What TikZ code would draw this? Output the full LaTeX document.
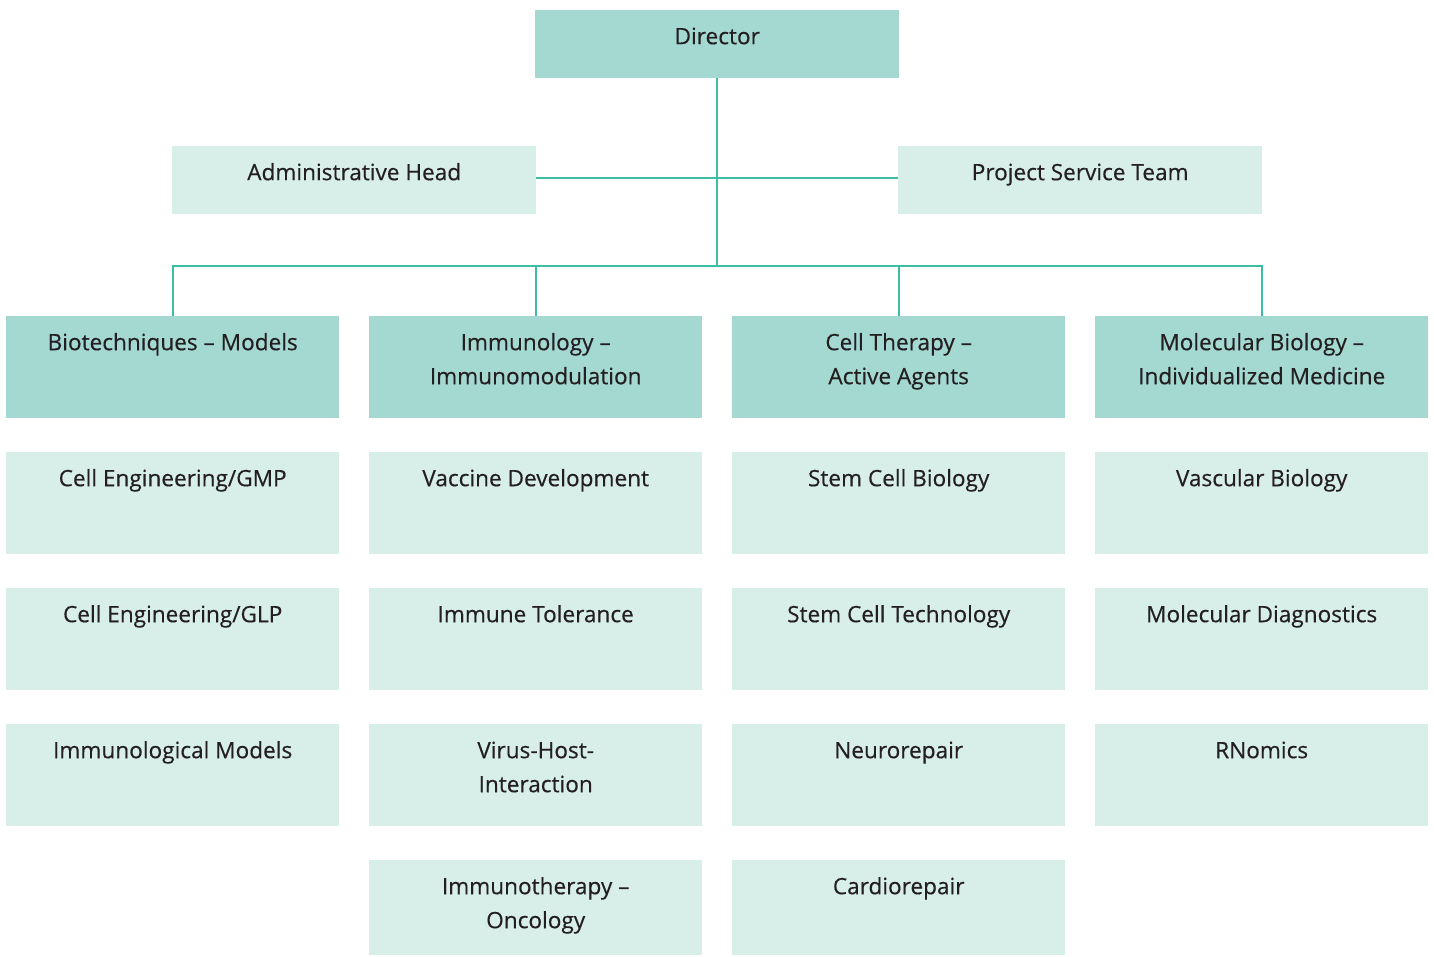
\documentclass[tikz,border=0pt]{standalone}
\usepackage{fontspec}
\setmainfont[FakeBold=0.4]{Open Sans}
\definecolor{dk}{HTML}{A4D9D2}
\definecolor{lt}{HTML}{D8EEE9}
\definecolor{ln}{HTML}{3DBDA4}
\definecolor{tx}{HTML}{231F20}
\newcommand{\bxt}[3]{\parbox[t][#2pt][t]{#1pt}{\centering\fontsize{22.6}{34}\selectfont\rule{0pt}{34pt}#3}}
\tikzset{
  dkbox/.style={fill=dk, draw=none, inner sep=0pt, anchor=north west, text=tx},
  ltbox/.style={fill=lt, draw=none, inner sep=0pt, anchor=north west, text=tx},
  conn/.style={draw=ln, line width=1.8pt},
}
\begin{document}
\begin{tikzpicture}[x=1pt,y=-1pt]
\useasboundingbox (0,0) rectangle (1434,956);
% top level
\node[dkbox] (dir) at (535,10) {\bxt{364}{68}{Director}};
\node[ltbox] (adm) at (172,146) {\bxt{364}{68}{Administrative Head}};
\node[ltbox] (pst) at (898,146) {\bxt{364}{68}{Project Service Team}};
% department heads
\node[dkbox] (bio) at (6,316) {\bxt{333}{102}{Biotechniques – Models}};
\node[dkbox] (imm) at (369,316) {\bxt{333}{102}{Immunology –\\Immunomodulation}};
\node[dkbox] (cel) at (732,316) {\bxt{333}{102}{Cell Therapy –\\Active Agents}};
\node[dkbox] (mol) at (1095,316) {\bxt{333}{102}{Molecular Biology –\\Individualized Medicine}};
% column 1
\node[ltbox] (b1) at (6,452) {\bxt{333}{102}{Cell Engineering/GMP}};
\node[ltbox] (b2) at (6,588) {\bxt{333}{102}{Cell Engineering/GLP}};
\node[ltbox] (b3) at (6,724) {\bxt{333}{102}{Immunological Models}};
% column 2
\node[ltbox] (i1) at (369,452) {\bxt{333}{102}{Vaccine Development}};
\node[ltbox] (i2) at (369,588) {\bxt{333}{102}{Immune Tolerance}};
\node[ltbox] (i3) at (369,724) {\bxt{333}{102}{Virus-Host-\\Interaction}};
\node[ltbox] (i4) at (369,860) {\bxt{333}{95}{Immunotherapy –\\Oncology}};
% column 3
\node[ltbox] (c1) at (732,452) {\bxt{333}{102}{Stem Cell Biology}};
\node[ltbox] (c2) at (732,588) {\bxt{333}{102}{Stem Cell Technology}};
\node[ltbox] (c3) at (732,724) {\bxt{333}{102}{Neurorepair}};
\node[ltbox] (c4) at (732,860) {\bxt{333}{95}{Cardiorepair}};
% column 4
\node[ltbox] (m1) at (1095,452) {\bxt{333}{102}{Vascular Biology}};
\node[ltbox] (m2) at (1095,588) {\bxt{333}{102}{Molecular Diagnostics}};
\node[ltbox] (m3) at (1095,724) {\bxt{333}{102}{RNomics}};
% connectors
\coordinate (hub) at (dir.south |- 0,266);
\draw[conn] (dir.south) -- (hub);
\draw[conn] (adm.east |- 0,178) -- (pst.west |- 0,178);
\draw[conn] (bio.north) |- (hub);
\draw[conn] (mol.north) |- (hub);
\draw[conn] (imm.north) -- (imm.north |- hub);
\draw[conn] (cel.north) -- (cel.north |- hub);
\end{tikzpicture}
\end{document}
